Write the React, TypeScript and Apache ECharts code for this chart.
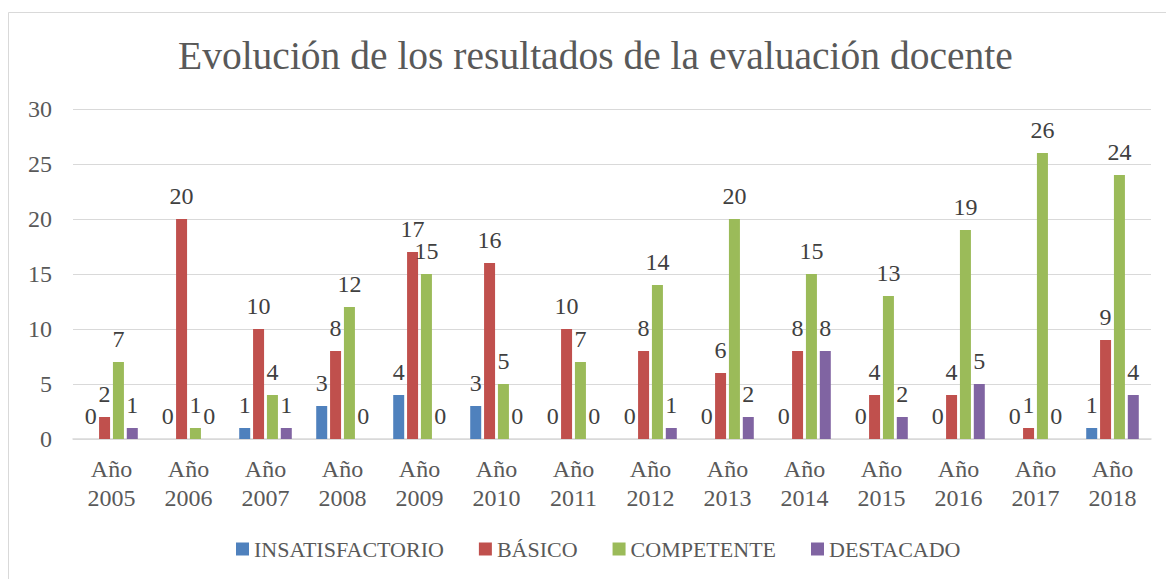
import React, { useEffect, useRef } from "react";
import * as echarts from "echarts";

const years = ["2005", "2006", "2007", "2008", "2009", "2010", "2011", "2012", "2013", "2014", "2015", "2016", "2017", "2018"];
const categories = years.map((y) => `Año\n${y}`);
const seriesNames = ["INSATISFACTORIO", "BÁSICO", "COMPETENTE", "DESTACADO"];
const insatisfactorio = [0, 0, 1, 3, 4, 3, 0, 0, 0, 0, 0, 0, 0, 1];
const basico = [2, 20, 10, 8, 17, 16, 10, 8, 6, 8, 4, 4, 1, 9];
const competente = [7, 1, 4, 12, 15, 5, 7, 14, 20, 15, 13, 19, 26, 24];
const destacado = [1, 0, 1, 0, 0, 0, 0, 1, 2, 8, 2, 5, 0, 4];
const colors = ["#4F81BD", "#C0504D", "#9BBB59", "#8064A2"];
const titleText = "Evolución de los resultados de la evaluación docente";

const FONT = "Liberation Serif";

export default function App() {
  const ref = useRef<HTMLDivElement>(null);
  useEffect(() => {
    if (!ref.current) return;
    const chart = echarts.init(ref.current, null, { renderer: "svg" });
    const data = [insatisfactorio, basico, competente, destacado];
    chart.setOption({
      animation: false,
      backgroundColor: "#ffffff",
      textStyle: { fontFamily: FONT },
      title: {
        text: titleText,
        left: 178,
        top: 36,
        padding: 0,
        textStyle: { fontFamily: FONT, fontSize: 39.5, fontWeight: "normal", color: "#595959" },
      },
      graphic: [
        {
          type: "rect",
          shape: { x: 8.5, y: 12.5, width: 1200, height: 620 },
          style: { fill: "none", stroke: "#d9d9d9", lineWidth: 1 },
          silent: true,
        },
      ],
      legend: {
        left: 236,
        top: 538,
        padding: 0,
        itemWidth: 13,
        itemHeight: 13,
        itemGap: 35,
        icon: "rect",
        textStyle: { fontFamily: FONT, fontSize: 22, color: "#595959" },
        data: seriesNames,
      },
      grid: { left: 73, right: 15, top: 109, bottom: 140, containLabel: false },
      xAxis: {
        type: "category",
        data: categories,
        axisLine: { lineStyle: { color: "#d9d9d9", width: 1.5 } },
        axisTick: { show: false },
        axisLabel: {
          fontFamily: FONT,
          fontSize: 24,
          lineHeight: 29,
          color: "#595959",
          margin: 15,
          interval: 0,
        },
      },
      yAxis: {
        type: "value",
        min: 0,
        max: 30,
        interval: 5,
        axisLine: { show: false },
        axisTick: { show: false },
        splitLine: { lineStyle: { color: "#d9d9d9", width: 1 } },
        axisLabel: { fontFamily: FONT, fontSize: 24, color: "#595959", margin: 21 },
      },
      series: seriesNames.map((name, i) => ({
        name,
        type: "bar",
        data: data[i],
        barWidth: 11,
        barGap: "26%",
        itemStyle: { color: colors[i] },
        label: {
          show: true,
          position: "top",
          distance: 11,
          fontFamily: FONT,
          fontSize: 24,
          color: "#404040",
        },
      })),
    });
    return () => chart.dispose();
  }, []);
  return <div ref={ref} style={{ position: "absolute", left: 0, top: 0, width: 1166, height: 579 }} />;
}
